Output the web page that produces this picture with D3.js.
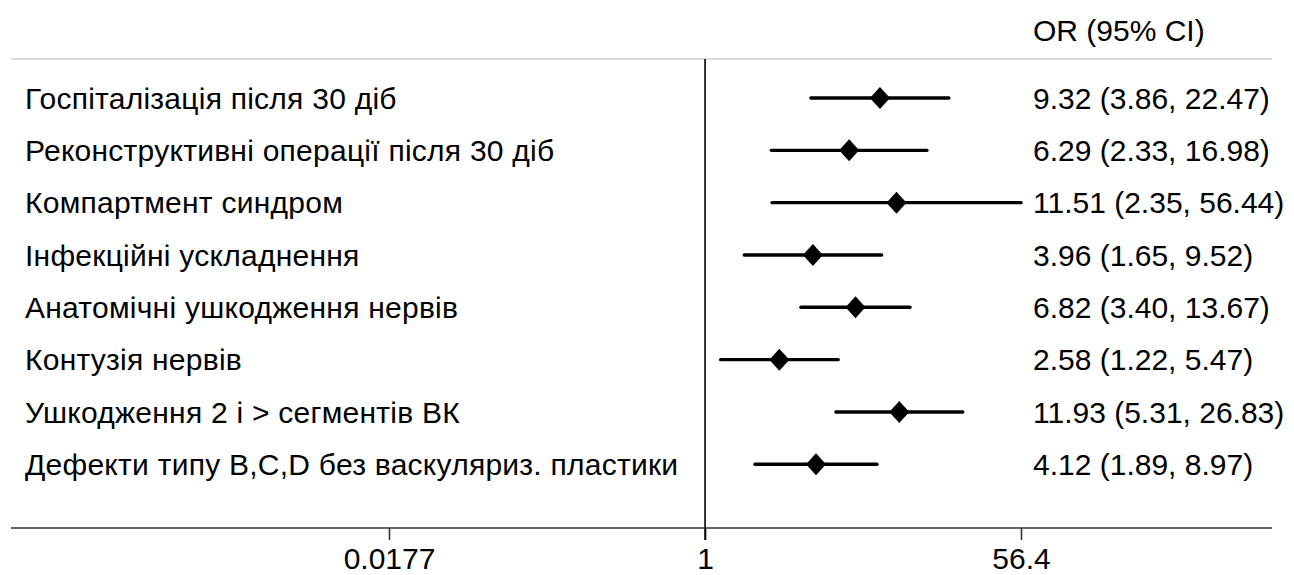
<!DOCTYPE html>
<html>
<head>
<meta charset="utf-8">
<script src="https://cdn.jsdelivr.net/npm/d3@7"></script>
<style>
  body { margin: 0; background: #fff; }
  text { font-family: "Liberation Sans", Arial, sans-serif; fill: #000; }
</style>
</head>
<body>
<div id="chart"></div>
<script>
// дані
var labels = [
    "Госпіталізація після 30 діб",
    "Реконструктивні операції після 30 діб",
    "Компартмент синдром",
    "Інфекційні ускладнення",
    "Анатомічні ушкодження нервів",
    "Контузія нервів",
    "Ушкодження 2 і > сегментів ВК",
    "Дефекти типу B,C,D без васкуляриз. пластики"
];
var orValues = [9.32, 6.29, 11.51, 3.96, 6.82, 2.58, 11.93, 4.12];
var lowerCI = [3.86, 2.33, 2.35, 1.65, 3.40, 1.22, 5.31, 1.89];
var upperCI = [22.47, 16.98, 56.44, 9.52, 13.67, 5.47, 26.83, 8.97];
var tickValues = [0.0177, 1, 56.4];
var tickLabels = ["0.0177", "1", "56.4"];
var headerText = "OR (95% CI)";

var width = 1294, height = 575;
var fontSize = 30;

var svg = d3.select("#chart").append("svg")
    .attr("width", width)
    .attr("height", height);

//x軸 (log)
var x = d3.scaleLog()
    .domain([tickValues[0], tickValues[tickValues.length - 1]])
    .range([389, 1021]);

//行の位置
var y = d3.scaleLinear()
    .domain([0, labels.length - 1])
    .range([98, 464.3]);

var topY = 59, axisY = 528, lineLeft = 11, lineRight = 1272;

// header
svg.append("text")
    .attr("x", 1033)
    .attr("y", 41)
    .style("font-size", fontSize + "px")
    .text(headerText);

// top grey rule
svg.append("line")
    .attr("x1", lineLeft).attr("x2", lineRight)
    .attr("y1", topY).attr("y2", topY)
    .attr("stroke", "#cfcfcf")
    .attr("stroke-width", 1.6);

// axis
var axis = svg.append("g")
    .attr("transform", "translate(0," + axisY + ")")
    .call(d3.axisBottom(x)
        .tickValues(tickValues)
        .tickFormat(function (d, i) { return tickLabels[i]; })
        .tickSize(12)
        .tickSizeOuter(0)
        .tickPadding(8));
axis.select(".domain").remove();
axis.selectAll(".tick line").attr("stroke", "#333").attr("stroke-width", 1.6);
axis.selectAll(".tick text")
    .attr("fill", "#000")
    .style("font-size", fontSize + "px")
    .style("font-family", "'Liberation Sans', Arial, sans-serif");

svg.append("line")
    .attr("x1", lineLeft).attr("x2", lineRight)
    .attr("y1", axisY).attr("y2", axisY)
    .attr("stroke", "#333")
    .attr("stroke-width", 1.6);

// null line at OR = 1
svg.append("line")
    .attr("x1", x(1)).attr("x2", x(1))
    .attr("y1", topY).attr("y2", axisY + 12)
    .attr("stroke", "#000")
    .attr("stroke-width", 1.6);

var rows = labels.map(function (d, i) {
    return { label: d, or: orValues[i], lo: lowerCI[i], hi: upperCI[i], i: i };
});

// left labels
svg.selectAll(".lab")
    .data(rows)
    .enter()
    .append("text")
    .attr("class", "lab")
    .attr("x", 25)
    .attr("y", function (d) { return y(d.i); })
    .attr("dy", "0.36em")
    .style("font-size", fontSize + "px")
    .style("letter-spacing", "0.25px")
    .text(function (d) { return d.label; });

// CI lines
svg.selectAll(".ci")
    .data(rows)
    .enter()
    .append("line")
    .attr("class", "ci")
    .attr("x1", function (d) { return x(d.lo); })
    .attr("x2", function (d) { return x(d.hi); })
    .attr("y1", function (d) { return y(d.i); })
    .attr("y2", function (d) { return y(d.i); })
    .attr("stroke", "#000")
    .attr("stroke-width", 3.4)
    .attr("stroke-linecap", "round");

// diamonds
svg.selectAll(".pt")
    .data(rows)
    .enter()
    .append("path")
    .attr("class", "pt")
    .attr("transform", function (d) { return "translate(" + x(d.or) + "," + y(d.i) + ")"; })
    .attr("d", "M0,-11L10,0L0,11L-10,0Z")
    .attr("fill", "#000");

// right text
svg.selectAll(".est")
    .data(rows)
    .enter()
    .append("text")
    .attr("class", "est")
    .attr("x", 1033)
    .attr("y", function (d) { return y(d.i); })
    .attr("dy", "0.36em")
    .style("font-size", fontSize + "px")
    .text(function (d) {
        return d.or.toFixed(2) + " (" + d.lo.toFixed(2) + ", " + d.hi.toFixed(2) + ")";
    });
</script>
</body>
</html>
